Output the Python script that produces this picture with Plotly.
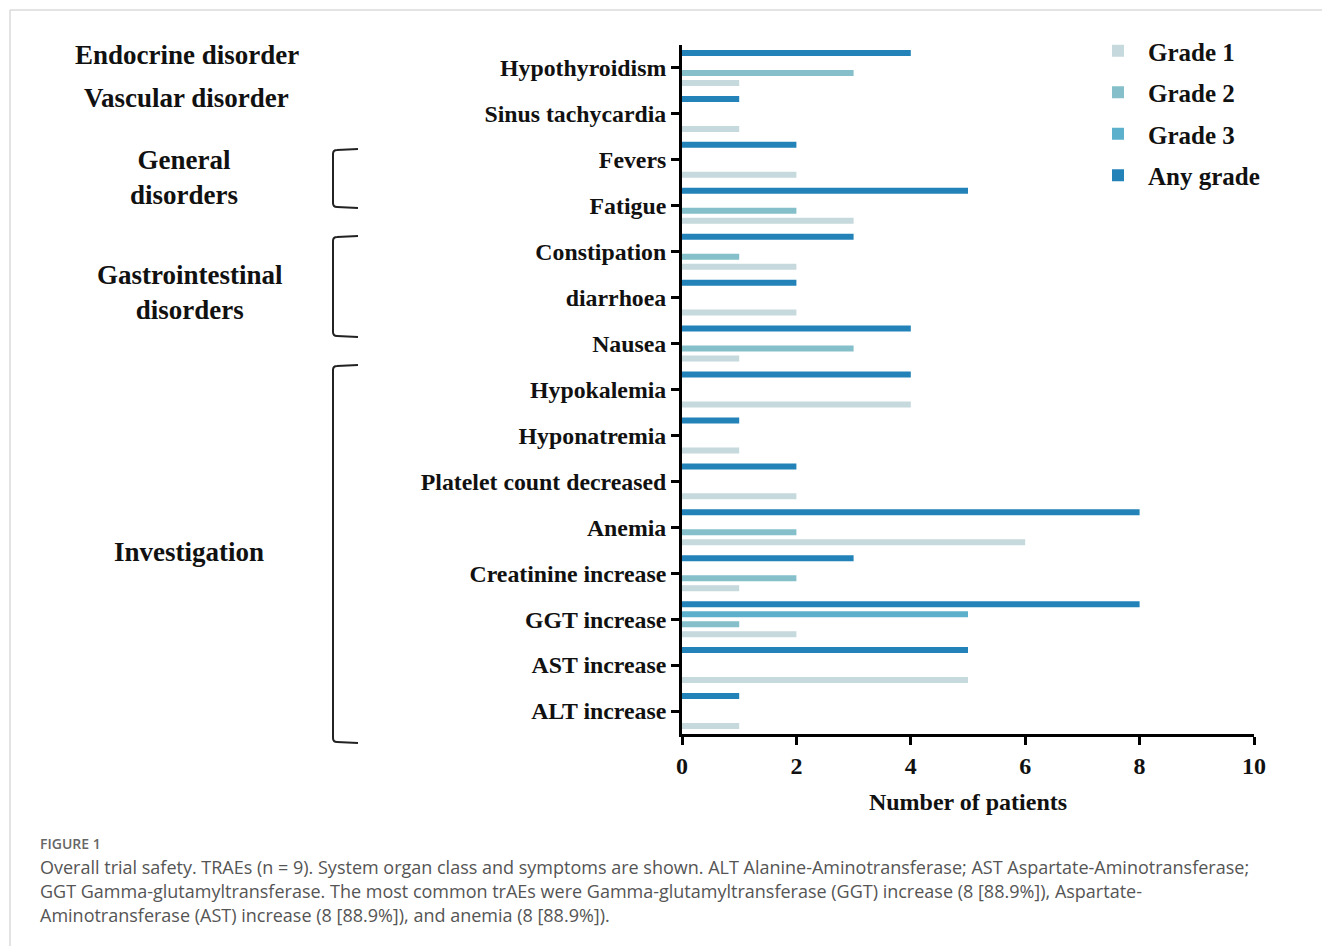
import plotly.graph_objects as go

# Adverse events, listed top to bottom
events = [
    "Hypothyroidism", "Sinus tachycardia", "Fevers", "Fatigue", "Constipation",
    "diarrhoea", "Nausea", "Hypokalemia", "Hyponatremia", "Platelet count decreased",
    "Anemia", "Creatinine increase", "GGT increase", "AST increase", "ALT increase",
]

# Number of patients per grade
any_grade = [4, 1, 2, 5, 3, 2, 4, 4, 1, 2, 8, 3, 8, 5, 1]
grade_3   = [0, 0, 0, 0, 0, 0, 0, 0, 0, 0, 0, 0, 5, 0, 0]
grade_2   = [3, 0, 0, 2, 1, 0, 3, 0, 0, 0, 2, 2, 1, 0, 0]
grade_1   = [1, 1, 2, 3, 2, 2, 1, 4, 1, 2, 6, 1, 2, 5, 1]

# (name, values, colour, legend rank)
series = [
    ("Any grade", any_grade, "#2383b9", 4),
    ("Grade 3", grade_3, "#5cb0cc", 3),
    ("Grade 2", grade_2, "#85bfc9", 2),
    ("Grade 1", grade_1, "#c6d9dd", 1),
]

x_ticks = [0, 2, 4, 6, 8, 10]

W, H = 1322, 946
L, R, T, B = 682, 1254, 45, 734  # plot area in pixels

def px(x):
    return (x - L) / (R - L)

def py(y):
    return (B - y) / (B - T)

SERIF = "Liberation Serif, Times New Roman, serif"
SANS = "Open Sans, Lato, sans-serif"

fig = go.Figure()
for name, vals, color, rank in series:
    fig.add_trace(go.Bar(
        x=vals, y=events, orientation="h", name=name,
        marker=dict(color=color, line=dict(width=0)),
        legendgroup=name, legendrank=rank,
    ))

fig.update_layout(
    width=W, height=H,
    margin=dict(l=L, r=W - R, t=T, b=H - B),
    paper_bgcolor="white", plot_bgcolor="white",
    barmode="group", bargap=0.13, bargroupgap=0.4,
    showlegend=True,
    legend=dict(
        x=px(1088), y=py(28), xanchor="left", yanchor="top",
        traceorder="grouped", tracegroupgap=6, itemwidth=50,
        font=dict(family=SERIF, size=25, color="#111", weight="bold"),
        bgcolor="rgba(0,0,0,0)",
    ),
    xaxis=dict(
        range=[0, 10], tickvals=x_ticks, showgrid=False, zeroline=False,
        showline=True, linecolor="black", linewidth=3,
        ticks="outside", ticklen=8, tickwidth=3, tickcolor="black",
        tickfont=dict(family=SERIF, size=24, color="#111", weight="bold"),
        title=dict(text="Number of patients", standoff=16,
                   font=dict(family=SERIF, size=24, color="#111", weight="bold")),
    ),
    yaxis=dict(
        categoryorder="array", categoryarray=events, autorange="reversed",
        showgrid=False, zeroline=False,
        showline=True, linecolor="black", linewidth=3,
        ticks="outside", ticklen=8, tickwidth=3, tickcolor="black",
        tickfont=dict(family=SERIF, size=23.8, color="#111", weight="bold"),
    ),
)

# System organ class labels on the left
groups = [
    ("Endocrine disorder", 187, 55),
    ("Vascular disorder", 186, 98),
    ("General<br>disorders", 184, 178),
    ("Gastrointestinal<br>disorders", 190, 292),
    ("Investigation", 189, 552),
]
for text, gx, gy in groups:
    fig.add_annotation(
        x=px(gx), y=py(gy), xref="paper", yref="paper", text=text,
        showarrow=False, xanchor="center", yanchor="middle", align="center",
        font=dict(family=SERIF, size=27, color="#111", weight="bold"),
    )

# Brackets grouping the events
def bracket(top, bottom, x_in=358, x_out=333, r=4):
    return (f"M {px(x_in)},{py(top)} L {px(x_out + r)},{py(top + 1)} "
            f"Q {px(x_out)},{py(top + 1)} {px(x_out)},{py(top + 1 + r)} "
            f"L {px(x_out)},{py(bottom - r)} "
            f"Q {px(x_out)},{py(bottom)} {px(x_out + r)},{py(bottom)} "
            f"L {px(x_in)},{py(bottom + 1)}")

for top, bottom in [(149, 207), (236, 336), (365, 742)]:
    fig.add_shape(type="path", xref="paper", yref="paper",
                  path=bracket(top, bottom),
                  line=dict(color="#222", width=2))

# Page frame
fig.add_shape(type="line", xref="paper", yref="paper",
              x0=px(10), x1=px(W), y0=py(10), y1=py(10),
              line=dict(color="#c8c8c8", width=1))
fig.add_shape(type="line", xref="paper", yref="paper",
              x0=px(10), x1=px(10), y0=py(10), y1=py(H),
              line=dict(color="#c8c8c8", width=1))

# Caption
fig.add_annotation(
    x=px(38), y=py(843), xref="paper", yref="paper", text="FIGURE 1",
    showarrow=False, xanchor="left", yanchor="middle",
    font=dict(family=SANS, size=14, color="#666", weight=600),
)
caption = [
    "Overall trial safety. TRAEs (n = 9). System organ class and symptoms are shown. ALT Alanine-Aminotransferase; AST Aspartate-Aminotransferase;",
    "GGT Gamma-glutamyltransferase. The most common trAEs were Gamma-glutamyltransferase (GGT) increase (8 [88.9%]), Aspartate-",
    "Aminotransferase (AST) increase (8 [88.9%]), and anemia (8 [88.9%]).",
]
for i, line in enumerate(caption):
    fig.add_annotation(
        x=px(38), y=py(867 + 24 * i), xref="paper", yref="paper", text=line,
        showarrow=False, xanchor="left", yanchor="middle",
        font=dict(family=SANS, size=18, color="#555"),
    )

fig.write_html("out.html")
